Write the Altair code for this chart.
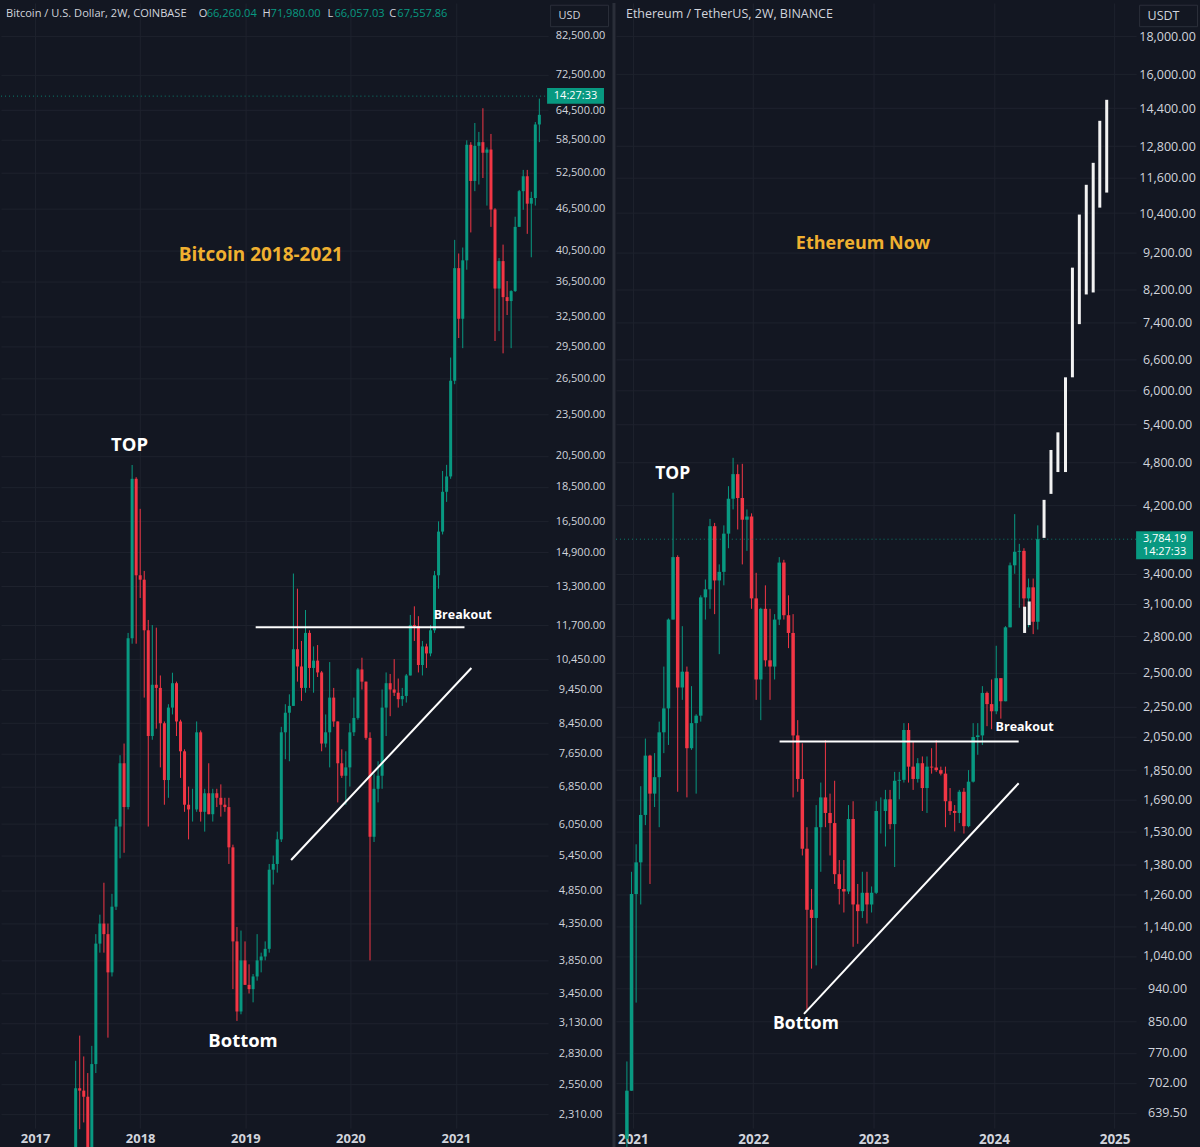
import altair as alt
import pandas as pd

FONT = "Open Sans"
BG = "#131722"
GREEN = "#089981"
RED = "#f23645"
TXT = "#d1d4dc"
GRID = "#1e222d"
GOLD = "#f0b030"
WHITE = "#ffffff"

# ---------------- Bitcoin 2W candles ----------------
btc_start = "2017-05-22"
btc_first_open = 2050
btc_high = [2760, 3000, 2800, 2650, 2900, 4200, 4480, 4980, 4350, 4800,
            6150, 7600, 7900, 11400, 19890, 19100, 17200, 14000, 11900, 11700,
            11600, 9900, 8500, 9000, 9990, 9700, 8550, 7750, 6850, 6800,
            8500, 8250, 6800, 7400, 6800, 6800, 6900, 6600, 6600, 5650,
            4300, 4250, 4100, 3800, 3680, 4200, 3950, 4100, 5300, 5450,
            5900, 8350, 9000, 9300, 13880, 13200, 11100, 12300, 11500, 10900,
            10950, 10050, 8700, 10350, 9500, 8500, 7750, 7700, 8450, 9200,
            10150, 10500, 9700, 8200, 7150, 7450, 9450, 10000, 9950, 10450,
            9800, 9500, 9950, 12100, 12450, 12050, 11100, 11000, 11700, 14000,
            16500, 19500, 19900, 28400, 41950, 40100, 40900, 58350, 58000, 61800,
            60000, 64900, 57000, 59600, 46600, 39500, 41300, 36600, 35500, 45300,
            49500, 52900, 52900, 49200, 62000, 67000]
btc_low = [1900, 2200, 2250, 1840, 1900, 2650, 3950, 3950, 2980, 3650,
           4550, 5400, 5500, 6350, 11000, 11000, 12800, 9200, 6000, 8000,
           8300, 7300, 6450, 6600, 8700, 8100, 7050, 6300, 5750, 6100,
           6300, 6100, 5900, 6250, 6100, 6400, 6200, 6300, 5300, 3500,
           3150, 3220, 3550, 3450, 3350, 3600, 3700, 3850, 3950, 4950,
           5150, 5700, 7500, 7450, 8950, 9700, 9100, 9350, 9500, 9350,
           9850, 7700, 7800, 7300, 8350, 6500, 7050, 6450, 6850, 8100,
           8550, 9450, 8000, 3850, 5700, 6500, 6800, 8100, 8650, 9250,
           8900, 8950, 9050, 9900, 11100, 10000, 9900, 10150, 10550, 11400,
           13200, 15800, 17600, 19000, 26000, 30300, 29300, 38000, 43000, 49300,
           50400, 51500, 47000, 43800, 30000, 31000, 28800, 32700, 29300, 35300,
           43800, 46350, 42800, 39600, 47000, 58000]
btc_close = [2520, 2500, 2450, 1930, 2730, 4070, 4350, 4200, 3700, 4600,
             6000, 7400, 6400, 11200, 19000, 13800, 13600, 11500, 8100, 9600,
             9500, 8450, 7000, 8900, 9650, 8500, 7700, 6450, 6350, 6350,
             8200, 6300, 6700, 6250, 6700, 6600, 6450, 6400, 5600, 4100,
             3250, 3850, 3550, 3500, 3650, 3850, 3900, 4000, 5200, 5300,
             5750, 8200, 8750, 8950, 10800, 10200, 9500, 11400, 10150, 10400,
             10000, 7900, 8200, 9200, 8500, 7400, 7100, 7300, 8200, 8600,
             10100, 9700, 8050, 5800, 6800, 7100, 8900, 9650, 9450, 9350,
             9150, 9250, 9900, 11700, 11650, 10250, 10900, 10650, 11500, 13800,
             15950, 18200, 19150, 26300, 38200, 32300, 39200, 57500, 51000, 57300,
             58000, 56000, 56600, 46400, 35700, 39100, 34700, 34250, 35400, 43800,
             49300, 51800, 47300, 48200, 61500, 63500]

# ---------------- Ethereum 2W candles ----------------
eth_start = "2020-12-14"
eth_first_open = 590
eth_high = [750, 1350, 1470, 1760, 2040, 1940, 1950, 2150, 2550, 2960,
            4370, 3600, 2890, 2550, 2400, 2200, 3180, 3340, 4030, 3980,
            3500, 3950, 4460, 4870, 4770, 4780, 4150, 4100, 3410, 3060,
            3280, 3050, 3000, 3580, 3550, 3180, 3000, 2160, 2010, 1550,
            1280, 1660, 1780, 2030, 1720, 1790, 1400, 1400, 1660, 1680,
            1300, 1350, 1350, 1290, 1680, 1700, 1740, 1740, 1840, 1840,
            2140, 2140, 2020, 1920, 1930, 1930, 1980, 2030, 1870, 1870,
            1750, 1660, 1740, 1750, 1850, 2140, 2140, 2400, 2360, 2450,
            2720, 2460, 2890, 3520, 4090, 3730, 3680, 3350, 3350, 3950]
eth_low = [570, 685, 900, 1220, 1560, 1300, 1650, 1550, 1950, 2000,
           2950, 1730, 2300, 1700, 1970, 1720, 2150, 2950, 3050, 3000,
           2650, 3280, 3680, 4150, 3900, 3500, 3650, 3050, 2300, 2160,
           2550, 2300, 2450, 2900, 2950, 2700, 1700, 1730, 1420, 880,
           1000, 1010, 1350, 1550, 1420, 1300, 1220, 1190, 1260, 1070,
           1080, 1170, 1150, 1190, 1260, 1520, 1460, 1540, 1370, 1690,
           1780, 1780, 1740, 1780, 1630, 1620, 1830, 1840, 1820, 1550,
           1610, 1530, 1570, 1520, 1550, 1780, 1940, 2000, 2120, 2100,
           2200, 2170, 2290, 2880, 3400, 3060, 2850, 2880, 2820, 2860]
eth_close = [685, 1260, 1390, 1610, 1935, 1720, 1810, 2080, 2240, 2950,
             3580, 2390, 2510, 1980, 2140, 2190, 3160, 3240, 3940, 3330,
             3420, 3850, 4290, 4630, 4300, 4020, 4060, 3150, 2450, 3050,
             2600, 2550, 2950, 3520, 2990, 2830, 2060, 1800, 1450, 1200,
             1170, 1550, 1700, 1620, 1570, 1340, 1280, 1270, 1590, 1220,
             1195, 1265, 1220, 1265, 1630, 1630, 1690, 1565, 1790, 1795,
             2095, 1870, 1800, 1890, 1750, 1870, 1865, 1850, 1830, 1680,
             1630, 1620, 1730, 1555, 1785, 2050, 2060, 2350, 2270, 2220,
             2460, 2290, 2880, 3490, 3640, 3650, 3150, 3260, 2930, 3784.19]

# projected (white) bars on the Ethereum chart
proj_dates = ["2024-04-03", "2024-04-17", "2024-06-01", "2024-06-22", "2024-07-13",
              "2024-08-05", "2024-08-26", "2024-09-16", "2024-10-07", "2024-10-28",
              "2024-11-17", "2024-12-08"]
proj_low = [2830, 2900, 3800, 4355, 4660, 4660, 6250, 7370, 8080, 8130, 10575, 11080]
proj_high = [3070, 3120, 4275, 4990, 5270, 6250, 8780, 10350, 11350, 12150, 13840, 14770]

# axis ticks (TradingView price scale labels)
btc_ticks = [82500, 72500, 64500, 58500, 52500, 46500, 40500, 36500, 32500, 29500,
             26500, 23500, 20500, 18500, 16500, 14900, 13300, 11700, 10450, 9450,
             8450, 7650, 6850, 6050, 5450, 4850, 4350, 3850, 3450, 3130, 2830, 2550, 2310]
eth_ticks = [18000, 16000, 14400, 12800, 11600, 10400, 9200, 8200, 7400, 6600, 6000,
             5400, 4800, 4200, 3400, 3100, 2800, 2500, 2250, 2050, 1850, 1690, 1530,
             1380, 1260, 1140, 1040, 940, 850, 770, 702, 639.5]
btc_years = [2017, 2018, 2019, 2020, 2021]
eth_years = [2021, 2022, 2023, 2024, 2025]

# annotations
btc_hline = {"date": ["2019-02-06", "2021-01-31"], "price": [11620, 11620]}
btc_trend = {"date": ["2019-06-09", "2021-02-24"], "price": [5370, 10150]}
eth_hline = {"date": ["2022-03-22", "2024-03-16"], "price": [2022, 2022]}
eth_trend = {"date": ["2022-06-04", "2024-03-16"], "price": [869, 1776]}

btc_last = 67557.86
eth_last = 3784.19


def candles(start, first_open, high, low, close):
    dates = pd.date_range(start, periods=len(close), freq="14D")
    opens = [first_open] + close[:-1]
    df = pd.DataFrame({
        "date": [d.strftime("%Y-%m-%d") for d in dates],
        "open": opens, "high": high, "low": low, "close": close,
    })
    df["dir"] = ["up" if c >= o else "down" for o, c in zip(df["open"], df["close"])]
    return df


def dt(y, m, d):
    return alt.DateTime(year=y, month=m, date=d, utc=True)


def make_panel(df, width, xdom, years, ydom, yticks, fs, hfs, yfs, ann_fs, brk_fs,
               label_pad, body_w, header, ohlc, title_text, title_pos, top_pos,
               bottom_pos, brk_pos, hline, trend, last_price, tag_x, tag_lines, tag_h,
               unit, unit_x, edge_x, proj=None, sep=False):
    H = 1127
    xaxis = alt.Axis(values=[dt(y, 1, 1) for y in years], format="%Y", labelColor=TXT,
                     labelFont=FONT, labelFontSize=yfs, labelFontWeight="bold",
                     ticks=False, domain=False, grid=True, gridColor=GRID,
                     labelPadding=4, labelFlush=False, labelOverlap=False)
    xscale = alt.Scale(type="utc", domain=[dt(*xdom[0]), dt(*xdom[1])], nice=False)
    yaxis = alt.Axis(orient="right", values=yticks, format=",.2f", labelColor=TXT,
                     labelFont=FONT, labelFontSize=fs, labelAlign="center",
                     labelBaseline="middle", labelPadding=label_pad, ticks=False,
                     domain=False, grid=True, gridColor=GRID, labelOverlap=False,
                     labelFlush=False)
    yscale = alt.Scale(type="log", domain=ydom, nice=False, zero=False)

    def X(f):
        return alt.X(f"{f}:T", title=None, scale=xscale, axis=xaxis)

    def Y(f):
        return alt.Y(f"{f}:Q", title=None, scale=yscale, axis=yaxis)

    col = alt.Color("dir:N", scale=alt.Scale(domain=["up", "down"], range=[GREEN, RED]),
                    legend=None)
    base = alt.Chart(df)
    wick = base.mark_rule(strokeWidth=1).encode(x=X("date"), y=Y("low"), y2="high", color=col)
    body = base.mark_bar(size=body_w).encode(x=X("date"), y=Y("open"), y2="close", color=col)
    layers = [wick, body]

    if proj is not None:
        layers.append(alt.Chart(proj).mark_bar(size=3, color="#f2f2f2").encode(
            x=X("date"), y=Y("low"), y2="high"))

    # last price dotted line
    lp = pd.DataFrame({"price": [last_price]})
    layers.append(alt.Chart(lp).mark_rule(color=GREEN, strokeDash=[1, 3], strokeWidth=1,
                                          opacity=0.8).encode(
        y=Y("price"), x=alt.value(0), x2=alt.value(width)))

    # trend / breakout lines
    for seg in (hline, trend):
        layers.append(alt.Chart(pd.DataFrame(seg)).mark_line(color=WHITE, strokeWidth=2)
                      .encode(x=X("date"), y=Y("price")))

    def label(pos, text, size, color):
        d = pd.DataFrame({"date": [pos[0]], "price": [pos[1]], "t": [text]})
        return alt.Chart(d).mark_text(font=FONT, fontSize=size, fontWeight="bold",
                                      color=color, align="center", baseline="middle").encode(
            x=X("date"), y=Y("price"), text="t:N")

    layers.append(label(title_pos, title_text, ann_fs, GOLD))
    layers.append(label(top_pos, "TOP", ann_fs - 0.5, WHITE))
    layers.append(label(bottom_pos, "Bottom", ann_fs - 0.5, WHITE))
    layers.append(label(brk_pos, "Breakout", brk_fs, WHITE))

    # header text
    def htext(t, x, color):
        return alt.Chart(pd.DataFrame({"t": [t]})).mark_text(
            font=FONT, fontSize=hfs, color=color, align="left", baseline="middle").encode(
            text="t:N", x=alt.value(x), y=alt.value(11))

    layers.append(htext(header[0], header[1], TXT))
    for letter, val, xl, xv in ohlc:
        layers.append(htext(letter, xl, TXT))
        layers.append(htext(val, xv, GREEN))

    # unit box on price scale
    ub = pd.DataFrame({"t": [unit]})
    layers.append(alt.Chart(ub).mark_point(
        shape="M-1,-0.37H1V0.37H-1Z", size=3364, filled=False, stroke="#2a2e39",
        strokeWidth=1, opacity=1).encode(x=alt.value(unit_x), y=alt.value(13)))
    layers.append(alt.Chart(ub).mark_text(font=FONT, fontSize=fs, color=TXT, align="left",
                                          baseline="middle").encode(
        text="t:N", x=alt.value(unit_x - 21), y=alt.value(13)))

    # price tag
    layers.append(alt.Chart(lp).mark_point(
        shape=tag_h, size=3249, filled=True, color=GREEN, opacity=1).encode(
        x=alt.value(tag_x), y=Y("price")))
    for i, t in enumerate(tag_lines):
        layers.append(alt.Chart(pd.DataFrame({"price": [last_price], "t": [t]})).mark_text(
            font=FONT, fontSize=11, color=WHITE, align="center", baseline="middle",
            dy=i * 13).encode(x=alt.value(tag_x), y=Y("price"), text="t:N"))

    if sep:
        layers.append(alt.Chart(pd.DataFrame({"a": [0]})).mark_rule(
            color="#2a2e39", strokeWidth=3).encode(
            x=alt.value(edge_x), y=alt.value(0), y2=alt.value(1147)))
    else:
        layers.append(alt.Chart(pd.DataFrame({"a": [0]})).mark_rule(
            color=BG, strokeWidth=1, opacity=0).encode(
            x=alt.value(edge_x), y=alt.value(0), y2=alt.value(1147)))

    return alt.layer(*layers).properties(width=width, height=H)


btc_df = candles(btc_start, btc_first_open, btc_high, btc_low, btc_close)
eth_df = candles(eth_start, eth_first_open, eth_high, eth_low, eth_close)
proj_df = pd.DataFrame({"date": proj_dates, "low": proj_low, "high": proj_high})

left = make_panel(
    btc_df, 548, ((2016, 9, 22), (2021, 10, 31)), btc_years, [2208, 92000], btc_ticks,
    11, 11.1, 13, 19, 12.5, 32, 3,
    ("Bitcoin / U.S. Dollar, 2W, COINBASE", 5),
    [("O", "66,260.04", 198, 206), ("H", "71,980.00", 262, 270),
     ("L", "66,057.03", 327, 334), ("C", "67,557.86", 389, 397)],
    "Bitcoin 2018-2021", ("2019-02-24", 39950), ("2017-11-25", 21230),
    ("2018-12-24", 2950), ("2021-01-25", 12090),
    btc_hline, btc_trend, btc_last, 575.5, ["14:27:33"], "M-1,-0.29H1V0.27H-1Z",
    "USD", 579.5, 614, proj=None, sep=True)

right = make_panel(
    eth_df, 521, ((2020, 11, 26), (2025, 2, 20)), eth_years, [610, 19940], eth_ticks,
    12.5, 12.5, 13.5, 18, 12.5, 31, 3.5,
    ("Ethereum / TetherUS, 2W, BINANCE", 10),
    [],
    "Ethereum Now", ("2022-11-30", 9460), ("2021-05-02", 4630),
    ("2022-06-10", 843), ("2024-04-03", 2112),
    eth_hline, eth_trend, eth_last, 549.5, ["3,784.19", "14:27:33"],
    "M-1,-0.28H1V0.70H-1Z", "USDT", 553.5, 583, proj=proj_df, sep=False)

chart = alt.hconcat(left, right, spacing=68, bounds="flush").properties(
    padding=0, background=BG
).configure_view(stroke=None)

chart.save("out.html", embed_options={"renderer": "svg", "actions": False})
